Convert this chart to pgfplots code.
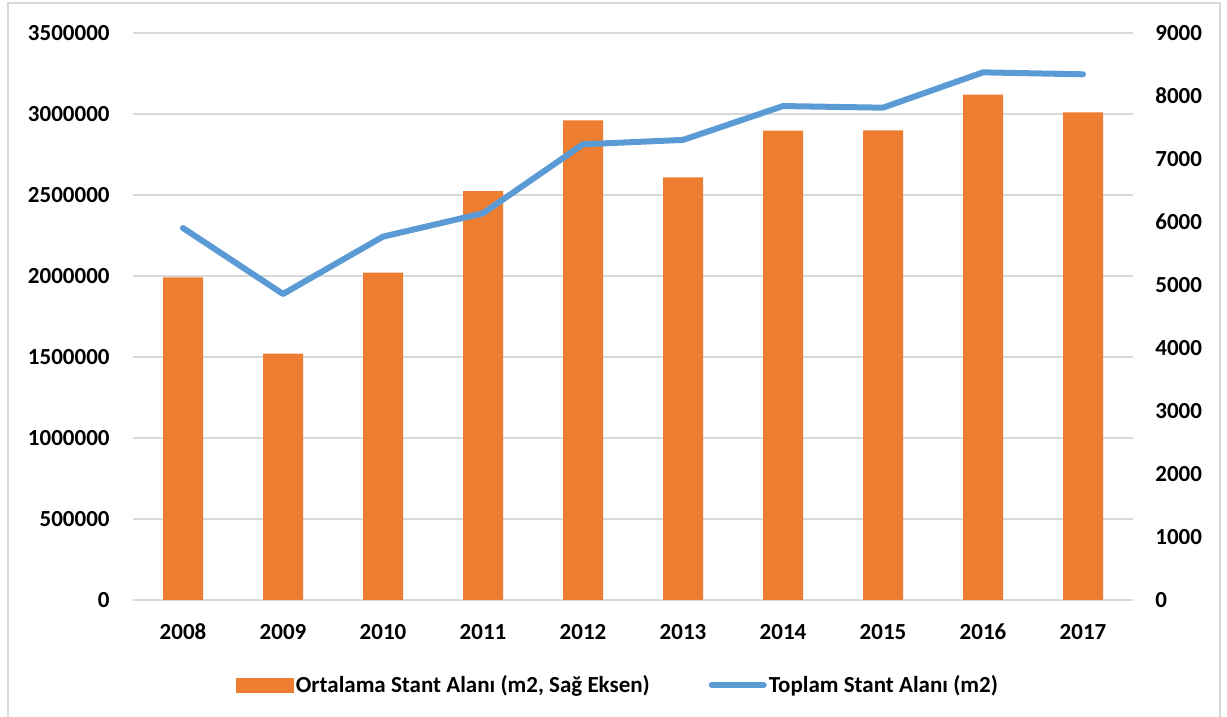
\documentclass[border=0pt]{standalone}
\usepackage{fontspec}
\setmainfont{Carlito}
\usepackage{pgfplots}
\pgfplotsset{compat=1.18}
\definecolor{barorange}{HTML}{ED7D31}
\definecolor{lineblue}{HTML}{5B9BD5}
\definecolor{gridgray}{HTML}{D9D9D9}
\newcommand{\lblfont}{\bfseries\fontsize{11.5}{13.5}\selectfont}
\begin{document}
\begin{tikzpicture}
\useasboundingbox (0pt,0pt) rectangle (613.5pt,358.5pt);
\draw[gridgray, line width=0.8pt] (4pt,-10pt) -- (4pt,357pt) -- (610pt,357pt) -- (610pt,-10pt);
\pgfplotsset{
  every axis/.append style={
    scale only axis, width=500pt, height=283.5pt,
    at={(66.5pt,58.5pt)}, anchor=south west,
    xmin=-0.5, xmax=9.5,
    axis line style={draw=none},
    tick style={draw=none},
    /pgf/number format/.cd, fixed, 1000 sep={}, assume math mode=true,
  },
}
% grid + left axis labels
\begin{axis}[
  ymin=0, ymax=3500000,
  ytick={0,500000,1000000,1500000,2000000,2500000,3000000,3500000},
  scaled y ticks=false,
  xtick=\empty,
  ymajorgrids, major grid style={gridgray, line width=0.8pt},
  axis y line*=left, axis x line*=bottom,
  yticklabel style={font=\lblfont, anchor=east, inner sep=0pt, xshift=-11.5pt},
]
\end{axis}
% bars on right axis
\begin{axis}[
  ymin=0, ymax=9000,
  ytick={0,1000,...,9000},
  scaled y ticks=false,
  axis y line*=right, axis x line*=bottom,
  xtick={0,...,9},
  xticklabels={2008,2009,2010,2011,2012,2013,2014,2015,2016,2017},
  yticklabel style={font=\lblfont, anchor=west, inner sep=0pt, xshift=11pt},
  xticklabel style={font=\lblfont, anchor=center, inner sep=0pt, yshift=-16pt},
]
\addplot[ybar, bar width=20pt, fill=barorange, draw=none] coordinates {
  (0,5122) (1,3910) (2,5196) (3,6492) (4,7614)
  (5,6709) (6,7450) (7,7455) (8,8021) (9,7741)
};
\end{axis}
% line on left axis
\begin{axis}[
  ymin=0, ymax=3500000,
  scaled y ticks=false,
  xtick=\empty, ytick=\empty,
  axis y line*=left, axis x line*=bottom,
  legend style={at={(0.485,-0.15)}, anchor=center, draw=none, fill=none,
    font=\lblfont, legend columns=2, inner sep=0pt,
    /tikz/every even column/.append style={column sep=28.5pt},
    nodes={inner sep=1pt}},
  legend cell align=left,
]
\addlegendimage{legend image code/.code={\fill[barorange] (0pt,-3.5pt) rectangle (28.5pt,3.5pt);}}
\addlegendentry{Ortalama Stant Alanı (m2, Sağ Eksen)}
\addplot[lineblue, line width=3pt, line cap=round, line join=round,
  legend image code/.code={\draw[lineblue, line width=3pt, line cap=round] (0pt,0pt) -- (26pt,0pt);}]
  coordinates {
  (0,2296000) (1,1889000) (2,2243000) (3,2387000) (4,2813000)
  (5,2840000) (6,3049000) (7,3039000) (8,3257000) (9,3245000)
};
\addlegendentry{Toplam Stant Alanı (m2)}
\end{axis}
\end{tikzpicture}
\end{document}
